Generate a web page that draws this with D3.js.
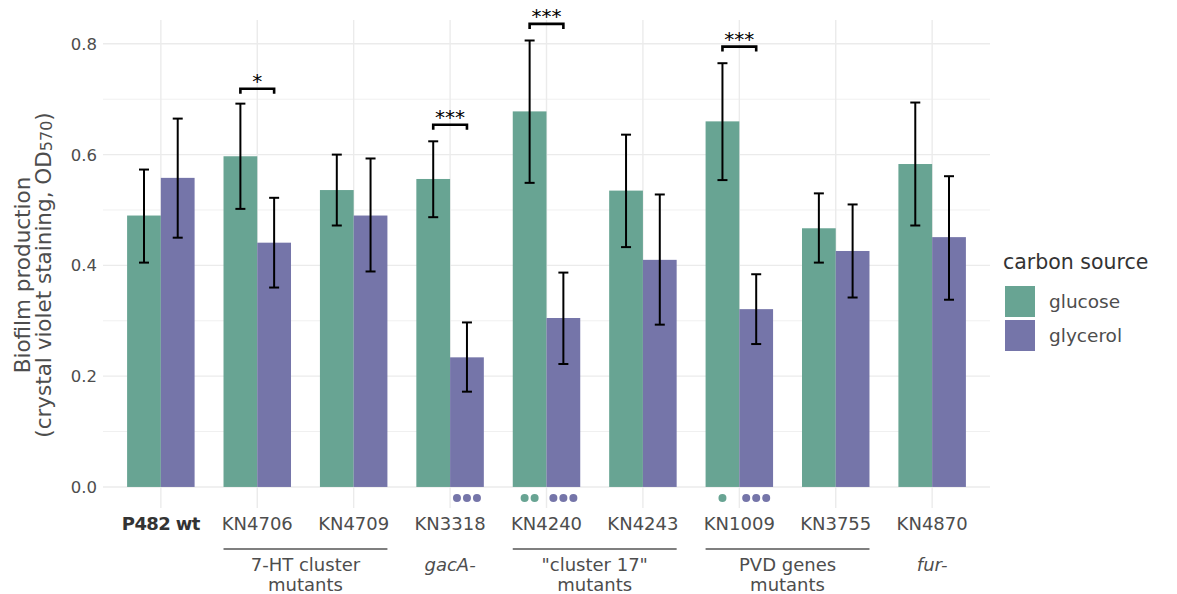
<!DOCTYPE html>
<html>
<head>
<meta charset="utf-8">
<script src="https://cdn.jsdelivr.net/npm/d3@7"></script>
<style>
  html, body { margin: 0; padding: 0; background: #fff; }
  svg { display: block; font-family: "DejaVu Sans", sans-serif; }
</style>
</head>
<body>
<svg id="chart" width="1177" height="594"></svg>
<script>
// Strains on the x axis
const strains = ["P482 wt", "KN4706", "KN4709", "KN3318", "KN4240", "KN4243", "KN1009", "KN3755", "KN4870"];
const sources = ["glucose", "glycerol"];

// Mean biofilm production (OD570) and error bar limits per carbon source
const glucoseMean = [0.490, 0.597, 0.536, 0.556, 0.678, 0.535, 0.660, 0.467, 0.583];
const glucoseLow  = [0.405, 0.502, 0.472, 0.487, 0.549, 0.433, 0.554, 0.405, 0.472];
const glucoseHigh = [0.573, 0.692, 0.600, 0.624, 0.806, 0.636, 0.765, 0.530, 0.694];
const glycerolMean = [0.558, 0.441, 0.490, 0.234, 0.305, 0.410, 0.321, 0.426, 0.451];
const glycerolLow  = [0.450, 0.360, 0.389, 0.172, 0.222, 0.293, 0.258, 0.342, 0.338];
const glycerolHigh = [0.665, 0.522, 0.593, 0.297, 0.387, 0.528, 0.384, 0.510, 0.561];

// Within-strain glucose vs glycerol comparisons
const sigStrains = ["KN4706", "KN3318", "KN4240", "KN1009"];
const sigLabels  = ["*", "***", "***", "***"];
const sigLevels  = [0.719, 0.654, 0.836, 0.795];

// Significance versus wild type, drawn as dots under the bars
const dotStrains = ["KN3318", "KN4240", "KN4240", "KN1009", "KN1009"];
const dotSources = ["glycerol", "glucose", "glycerol", "glucose", "glycerol"];
const dotCounts  = [3, 2, 3, 1, 3];

// Strain groups below the axis
const groupFirst = ["KN4706", "KN3318", "KN4240", "KN1009", "KN4870"];
const groupLast  = ["KN4709", "KN3318", "KN4243", "KN3755", "KN4870"];
const groupLines = [["7-HT cluster", "mutants"], ["gacA-"], ["\"cluster 17\"", "mutants"], ["PVD genes", "mutants"], ["fur-"]];
const groupItalic = [false, true, false, false, true];
const groupRule = [true, false, true, true, false];

const yTicks = [0.0, 0.2, 0.4, 0.6, 0.8];
const yMinor = [0.1, 0.3, 0.5, 0.7];

const colors = { glucose: "#68a493", glycerol: "#7575a9" };

const svg = d3.select("#chart");
const panel = { left: 103, right: 990, top: 20, bottom: 508 };

const x = d3.scalePoint().domain(strains).range([panel.left, panel.right]).padding(0.6);
const dodge = d3.scaleBand().domain(sources).range([-x.step() * 0.35, x.step() * 0.35]);
const y = d3.scaleLinear().domain([-0.038, 0.843]).range([panel.bottom, panel.top]);

// Grid
const grid = svg.append("g");
grid.selectAll(".minor").data(yMinor).join("line")
  .attr("x1", panel.left).attr("x2", panel.right)
  .attr("y1", d => y(d)).attr("y2", d => y(d))
  .attr("stroke", "#f0f0f0").attr("stroke-width", 1);
grid.selectAll(".major").data(yTicks).join("line")
  .attr("x1", panel.left).attr("x2", panel.right)
  .attr("y1", d => y(d)).attr("y2", d => y(d))
  .attr("stroke", "#ebebeb").attr("stroke-width", 1.4);
grid.selectAll(".vert").data(strains).join("line")
  .attr("x1", d => x(d)).attr("x2", d => x(d))
  .attr("y1", panel.top).attr("y2", panel.bottom)
  .attr("stroke", "#ebebeb").attr("stroke-width", 1.4);

// Bar records
const rows = [];
strains.forEach((s, i) => {
  rows.push({ strain: s, source: "glucose", mean: glucoseMean[i], lo: glucoseLow[i], hi: glucoseHigh[i] });
  rows.push({ strain: s, source: "glycerol", mean: glycerolMean[i], lo: glycerolLow[i], hi: glycerolHigh[i] });
});
const cx = d => x(d.strain) + dodge(d.source) + dodge.bandwidth() / 2;

svg.append("g").selectAll("rect").data(rows).join("rect")
  .attr("x", d => x(d.strain) + dodge(d.source))
  .attr("width", dodge.bandwidth())
  .attr("y", d => y(d.mean))
  .attr("height", d => y(0) - y(d.mean))
  .attr("fill", d => colors[d.source]);

// Error bars
const eb = svg.append("g").attr("stroke", "#000").attr("stroke-width", 2).attr("fill", "none");
eb.selectAll(".v").data(rows).join("line")
  .attr("x1", cx).attr("x2", cx).attr("y1", d => y(d.lo)).attr("y2", d => y(d.hi));
eb.selectAll(".t").data(rows).join("line")
  .attr("x1", d => cx(d) - 5).attr("x2", d => cx(d) + 5).attr("y1", d => y(d.hi)).attr("y2", d => y(d.hi));
eb.selectAll(".b").data(rows).join("line")
  .attr("x1", d => cx(d) - 5).attr("x2", d => cx(d) + 5).attr("y1", d => y(d.lo)).attr("y2", d => y(d.lo));

// Significance brackets
const brk = svg.append("g");
sigStrains.forEach((s, i) => {
  const x1 = x(s) + dodge("glucose") + dodge.bandwidth() / 2;
  const x2 = x(s) + dodge("glycerol") + dodge.bandwidth() / 2;
  const yy = y(sigLevels[i]);
  brk.append("path")
    .attr("d", `M${x1},${yy + 5}V${yy}H${x2}V${yy + 5}`)
    .attr("fill", "none").attr("stroke", "#000").attr("stroke-width", 2.6);
  brk.append("text")
    .attr("x", (x1 + x2) / 2).attr("y", yy - 1)
    .attr("text-anchor", "middle").attr("font-size", 20).attr("fill", "#000")
    .text(sigLabels[i]);
});

// Dots under bars
const dots = [];
dotStrains.forEach((s, i) => {
  const c = x(s) + dodge(dotSources[i]) + dodge.bandwidth() / 2;
  const n = dotCounts[i];
  for (let k = 0; k < n; k++) {
    dots.push({ x: c + (k - (n - 1) / 2) * 10, source: dotSources[i] });
  }
});
svg.append("g").selectAll("circle").data(dots).join("circle")
  .attr("cx", d => d.x).attr("cy", y(-0.02)).attr("r", 4)
  .attr("fill", d => colors[d.source]);

// Y axis tick labels
svg.append("g").selectAll("text").data(yTicks).join("text")
  .attr("x", 97).attr("y", d => y(d)).attr("dy", "0.36em")
  .attr("text-anchor", "end").attr("font-size", 16.5).attr("fill", "#4d4d4d")
  .text(d => d.toFixed(1));

// X axis tick labels
svg.append("g").selectAll("text").data(strains).join("text")
  .attr("x", d => x(d)).attr("y", 530)
  .attr("text-anchor", "middle").attr("font-size", 18)
  .attr("font-weight", d => d === "P482 wt" ? "bold" : "normal")
  .attr("fill", d => d === "P482 wt" ? "#333" : "#4d4d4d")
  .attr("letter-spacing", d => d === "P482 wt" ? -0.6 : 0)
  .text(d => d);

// Group rules and labels
const grp = svg.append("g");
groupFirst.forEach((f, i) => {
  const l = groupLast[i];
  const x1 = x(f) + dodge("glucose");
  const x2 = x(l) + dodge("glycerol") + dodge.bandwidth();
  if (groupRule[i]) {
    grp.append("line").attr("x1", x1).attr("x2", x2).attr("y1", 549).attr("y2", 549)
      .attr("stroke", "#555").attr("stroke-width", 1.6);
  }
  const t = grp.append("text").attr("text-anchor", "middle").attr("font-size", 18)
    .attr("fill", "#4d4d4d").attr("font-style", groupItalic[i] ? "italic" : "normal");
  groupLines[i].forEach((line, j) => {
    t.append("tspan").attr("x", (x1 + x2) / 2).attr("y", 571 + j * 20).text(line);
  });
});

// Y axis title
const yt = svg.append("text").attr("transform", "translate(0,275) rotate(-90)")
  .attr("text-anchor", "middle").attr("font-size", 21.5).attr("fill", "#4d4d4d");
yt.append("tspan").attr("x", 0).attr("y", 30).text("Biofilm production");
yt.append("tspan").attr("x", 0).attr("y", 51).text("(crystal violet staining, OD");
yt.append("tspan").attr("font-size", 16).attr("dy", 1).text("570");
yt.append("tspan").attr("dy", -1).text(")");

// Legend
const leg = svg.append("g");
leg.append("text").attr("x", 1003).attr("y", 269).attr("font-size", 20.5).attr("fill", "#333")
  .text("carbon source");
sources.forEach((s, i) => {
  leg.append("rect").attr("x", 1005).attr("y", 286 + i * 34).attr("width", 30).attr("height", 31)
    .attr("fill", colors[s]);
  leg.append("text").attr("x", 1049).attr("y", 302 + i * 34).attr("dy", "0.35em")
    .attr("font-size", 18.5).attr("fill", "#4d4d4d").text(s);
});
</script>
</body>
</html>
